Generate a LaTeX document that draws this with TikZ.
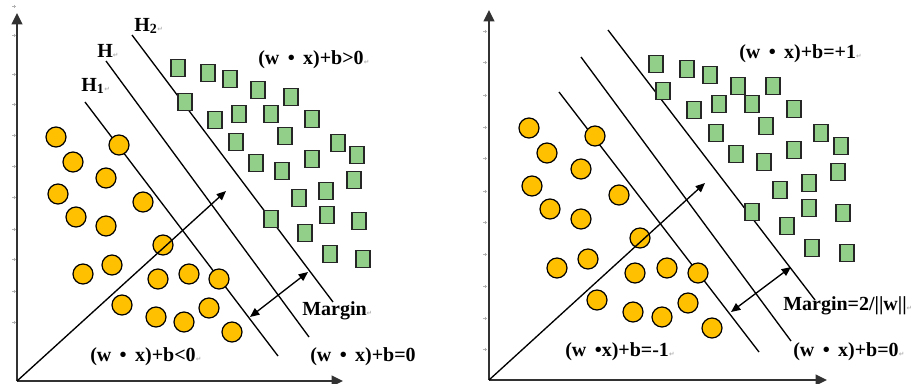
\documentclass[tikz,border=0pt]{standalone}
\usepackage{fontspec}
\setmainfont{Liberation Serif}
\newfontfamily\retfont{DejaVu Sans}
\usetikzlibrary{arrows.meta}
\definecolor{gold}{RGB}{255,192,0}
\definecolor{mint}{RGB}{146,208,138}
\definecolor{axisgray}{RGB}{50,50,50}
\newcommand{\retmark}{{\retfont\fontsize{5}{5}\selectfont\color{gray!60}↵}}
\newcommand{\wdot}{\hspace{0.42em}\textbullet\hspace{0.42em}}
\tikzset{
  axis/.style={draw=axisgray,line width=1.5pt,-{Triangle[length=8.5pt,width=8pt]}},
  plane/.style={draw=black,line width=1pt},
  vec/.style={draw=black,line width=1pt,-{Triangle[length=7pt,width=6pt]}},
  gap arrow/.style={draw=black,line width=1pt,
    {Triangle[length=7pt,width=6pt]}-{Triangle[length=7pt,width=6pt]}},
  neg/.style={circle,draw=black,line width=0.9pt,fill=gold,minimum size=15pt,inner sep=0pt},
  posbox/.style={rectangle,draw=black!85,line width=1.1pt,fill=mint,
    minimum width=10.5pt,minimum height=12.75pt,inner sep=0pt},
  lab/.style={font=\fontsize{15}{18}\selectfont\bfseries,inner sep=0pt,anchor=base west},
  tickmark/.style={draw=gray!60,line width=0.4pt},
}

\begin{document}
\begin{tikzpicture}[x=0.75pt,y=-0.75pt]
  \useasboundingbox (0,0) rectangle (917,383);
  % ---------- left panel: hyperplane H with H1, H2 ----------
  \foreach \y in {6,35,74,104,135,166,197,229,259,291,322}
    \draw[tickmark] (14,\y) ++(-2,0) -- ++(4,0) ++(-2,-1.5) -- ++(0,3);
  \coordinate (oL) at (17,381);
  \coordinate (yL) at (17,13);
  \coordinate (xL) at (343,381);
  \draw[axis] (oL) -- (yL);
  \draw[axis] (oL) -- (xL);
  \coordinate (h1a) at (85,102);  \coordinate (h1b) at (278,356);
  \coordinate (h0a) at (106,61);  \coordinate (h0b) at (309,337);
  \coordinate (h2a) at (132,35);  \coordinate (h2b) at (333,302);
  \draw[plane] (h1a) -- (h1b);
  \draw[plane] (h0a) -- (h0b);
  \draw[plane] (h2a) -- (h2b);
  \foreach \x/\y [count=\i] in {56/137,119/145,73/162,106/178,58/194,143/202,76/217,
      106/226,163/245,83/274,112/265,158/279,189/274,219/279,122/305,156/317,184/322,
      209/308,232/332}
    \node[neg] (negL\i) at (\x,\y) {};
  \foreach \x/\y [count=\i] in {178/68,208/73,230/79,258/90,291/97,185/102,215/120,
      239/114,271/114,312/119,285/136,236/142,338/143,357/155,256/163,282/171,312/159,
      354/180,326/191,299/198,271/219,327/215,359/221,305/233,330/254,363/259}
    \node[posbox] (posL\i) at (\x,\y) {};
  \coordinate (wL) at (226,191);
  \draw[vec] (oL) -- (wL);
  \coordinate (gL1) at (250,317);
  \coordinate (gL2) at (308,272);
  \draw[gap arrow] (gL1) -- (gL2);
  \node[lab] (labH2) at (134,31) {H\textsubscript{2}\retmark};
  \node[lab] (labH) at (97,57) {H\retmark};
  \node[lab] (labH1) at (81,91) {H\textsubscript{1}\retmark};
  \node[lab] (labposL) at (258,64) {(w\wdot x)+b>0\retmark};
  \node[lab] (labgapL) at (302,315) {Margin\retmark};
  \node[lab] (labnegL) at (90,361) {(w\wdot x)+b<0\retmark};
  \node[lab] (labzeroL) at (310,361) {(w\wdot x)+b=0};
  % ---------- right panel: margin 2/||w|| ----------
  \foreach \y in {31,62,95,127,158,191,222,254,286,318,349}
    \draw[tickmark] (485,\y) ++(-2,0) -- ++(4,0) ++(-2,-1.5) -- ++(0,3);
  \coordinate (oR) at (489,380);
  \coordinate (yR) at (489,10);
  \coordinate (xR) at (827,380);
  \draw[axis] (oR) -- (yR);
  \draw[axis] (oR) -- (xR);
  \coordinate (r1a) at (559,92);  \coordinate (r1b) at (759,352);
  \coordinate (r0a) at (581,57);  \coordinate (r0b) at (791,341);
  \coordinate (r2a) at (608,30);  \coordinate (r2b) at (815,300);
  \draw[plane] (r1a) -- (r1b);
  \draw[plane] (r0a) -- (r0b);
  \draw[plane] (r2a) -- (r2b);
  \foreach \x/\y [count=\i] in {529/128,595/136,547/153,581/169,532/186,619/195,550/209,
      581/219,640/238,557/268,588/259,635/273,667/268,698/273,597/300,633/312,662/317,
      688/303,712/328}
    \node[neg] (negR\i) at (\x,\y) {};
  \foreach \x/\y [count=\i] in {656/64,687/69,710/75,738/86,773/86,663/91,694/110,
      719/104,752/104,794/109,766/126,716/133,821/133,841/146,736/154,764/162,794/150,
      838/172,809/183,780/190,752/212,809/208,843/213,787/226,812/248,847/253}
    \node[posbox] (posR\i) at (\x,\y) {};
  \coordinate (wR) at (705,183);
  \draw[vec] (oR) -- (wR);
  \coordinate (gR1) at (731,312);
  \coordinate (gR2) at (791,267);
  \draw[gap arrow] (gR1) -- (gR2);
  \node[lab] (labposR) at (739,58) {(w\wdot x)+b=+1\retmark};
  \node[lab] (labgapR) at (783,310) {Margin=2/||w||\retmark};
  \node[lab] (labnegR) at (565,356) {(w\hspace{0.42em}\textbullet x)+b=-1\retmark};
  \node[lab] (labzeroR) at (793,356) {(w\wdot x)+b=0\retmark};
\end{tikzpicture}
\end{document}
